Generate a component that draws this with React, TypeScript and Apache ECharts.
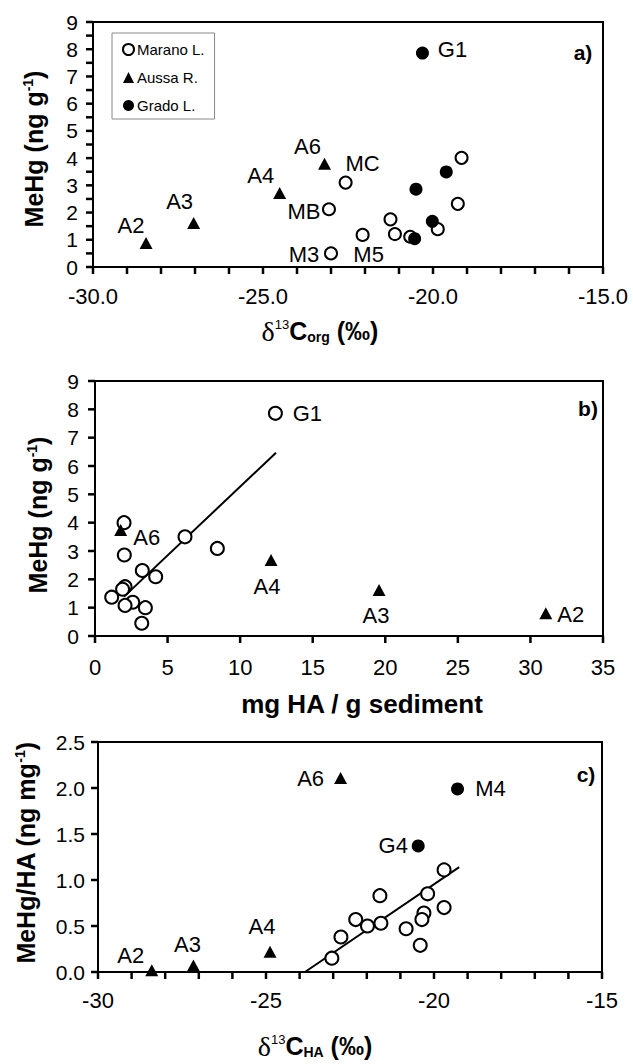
import React, { useEffect, useRef } from 'react';
import * as echarts from 'echarts';

const FONT = '"Liberation Sans", Arial, Helvetica, sans-serif';
const SERIF = '"Liberation Serif", "Times New Roman", serif';

// ---------- Panel a: MeHg vs d13C org ----------
const aMarano: [number, number, string][] = [
  [-22.57, 3.1, 'MC'], [-23.06, 2.12, 'MB'], [-23.0, 0.5, 'M3'], [-22.07, 1.18, 'M5'],
  [-21.25, 1.75, ''], [-21.12, 1.21, ''], [-20.67, 1.11, ''], [-19.86, 1.39, ''],
  [-19.27, 2.32, ''], [-19.16, 4.01, ''],
];
const aAussa: [number, number, string][] = [
  [-28.44, 0.88, 'A2'], [-27.04, 1.62, 'A3'], [-24.51, 2.72, 'A4'], [-23.19, 3.79, 'A6'],
];
const aGrado: [number, number, string][] = [
  [-20.31, 7.86, 'G1'], [-20.5, 2.86, ''], [-19.61, 3.49, ''], [-20.02, 1.68, ''], [-20.54, 1.04, ''],
];

// ---------- Panel b: MeHg vs mg HA / g sediment ----------
const bOpen: [number, number, string][] = [
  [12.43, 7.86, 'G1'], [6.2, 3.5, ''], [8.43, 3.09, ''], [2.0, 4.0, ''], [2.02, 2.86, ''],
  [3.26, 2.31, ''], [4.18, 2.09, ''], [2.07, 1.74, ''], [1.9, 1.65, ''], [1.15, 1.37, ''],
  [2.6, 1.19, ''], [2.07, 1.08, ''], [3.47, 1.0, ''], [3.22, 0.45, ''],
];
const bAussa: [number, number, string][] = [
  [1.77, 3.74, 'A6'], [12.13, 2.68, 'A4'], [19.57, 1.62, 'A3'], [31.06, 0.8, 'A2'],
];
const bFit: [number, number][] = [[2.0, 1.39], [12.47, 6.47]];

// ---------- Panel c: MeHg/HA vs d13C HA ----------
const cOpen: [number, number, string][] = [
  [-19.7, 1.11, ''], [-20.19, 0.85, ''], [-19.7, 0.7, ''], [-20.3, 0.64, ''], [-20.36, 0.57, ''],
  [-20.41, 0.29, ''], [-20.83, 0.47, ''], [-21.61, 0.83, ''], [-21.58, 0.53, ''], [-21.98, 0.5, ''],
  [-22.33, 0.57, ''], [-22.77, 0.38, ''], [-23.04, 0.15, ''],
];
const cFilled: [number, number, string][] = [[-19.3, 1.99, 'M4'], [-20.47, 1.37, 'G4']];
const cAussa: [number, number, string][] = [
  [-28.4, 0.02, 'A2'], [-27.16, 0.07, 'A3'], [-24.88, 0.22, 'A4'], [-22.78, 2.11, 'A6'],
];
const cFit: [number, number][] = [[-23.84, 0.0], [-19.25, 1.14]];

const legendNames = ['Marano L.', 'Aussa R.', 'Grado L.'];

// label offsets (px, label centre relative to point centre)
const offA: Record<string, [number, number]> = {
  MC: [17, -19], MB: [-25, 2], M3: [-27, 1], M5: [6, 20],
  A2: [-15, -18], A3: [-14, -21], A4: [-19, -17], A6: [-17, -17], G1: [30, -4],
};
const offB: Record<string, [number, number]> = {
  G1: [32, 0], A6: [26, 7], A4: [-4, 26], A3: [-3, 25], A2: [25, 1],
};
const offC: Record<string, [number, number]> = {
  A2: [-21, -15], A3: [-6, -21], A4: [-8, -25], A6: [-30, 1], M4: [33, 0], G4: [-25, 0],
};

const labelBase = {
  position: 'inside',
  color: '#000',
  opacity: 1,
  fontFamily: FONT,
  fontSize: 22,
  textBorderWidth: 0,
};

function toData(arr: [number, number, string][], off: Record<string, [number, number]>) {
  return arr.map(([x, y, n]) => {
    const item: any = { value: [x, y], name: n };
    if (n) {
      item.label = { ...labelBase, show: true, offset: off[n], formatter: n };
    }
    return item;
  });
}

const openStyle = { color: '#fff', borderColor: '#000', borderWidth: 2, opacity: 1 };
const fillStyle = { color: '#000', borderColor: '#000', borderWidth: 0, opacity: 1 };

function axisCfg(gi: number, position: string, min: number, max: number, interval: number, fmt: (v: number) => string, margin: number, fontSize: number) {
  return {
    type: 'value', gridIndex: gi, position, min, max, interval,
    axisLine: { show: true, onZero: false, lineStyle: { color: '#000', width: 2 } },
    axisTick: { show: false },
    splitLine: { show: false },
    axisLabel: { color: '#000', fontFamily: FONT, fontSize, margin, formatter: fmt, hideOverlap: false },
  };
}

const isMult = (v: number, m: number) => Math.abs(v / m - Math.round(v / m)) < 1e-6;

function steps(min: number, max: number, step: number) {
  const out: number[] = [];
  const n = Math.round((max - min) / step);
  for (let i = 0; i <= n; i++) out.push(+(min + i * step).toFixed(6));
  return out;
}

const TICK_LEN = 7;
// tick marks drawn through the axes' own coordinate conversion
function tickSeries(gi: number, dim: 'x' | 'y', values: number[], fixed: number) {
  return {
    name: `ticks-${gi}-${dim}`,
    type: 'custom',
    xAxisIndex: gi, yAxisIndex: gi,
    clip: false, silent: true, z: 5,
    data: values.map((v) => (dim === 'x' ? [v, fixed] : [fixed, v])),
    renderItem: (_params: any, api: any) => {
      const p = api.coord([api.value(0), api.value(1)]);
      const shape = dim === 'x'
        ? { x1: p[0], y1: p[1], x2: p[0], y2: p[1] + TICK_LEN }
        : { x1: p[0] - TICK_LEN, y1: p[1], x2: p[0], y2: p[1] };
      return { type: 'line', shape, style: { stroke: '#000', lineWidth: 2.5 } };
    },
  };
}

const rich = {
  b: { fontFamily: FONT, fontWeight: 'bold', fontSize: 25, lineHeight: 26, color: '#000' },
  d: { fontFamily: SERIF, fontSize: 28, lineHeight: 26, color: '#000' },
  sup: { fontFamily: FONT, fontSize: 13, lineHeight: 14, verticalAlign: 'top', color: '#000' },
  bsup: { fontFamily: FONT, fontWeight: 'bold', fontSize: 14, lineHeight: 14, verticalAlign: 'top', color: '#000' },
  sub: { fontFamily: FONT, fontWeight: 'bold', fontSize: 14, lineHeight: 12, verticalAlign: 'bottom', color: '#000' },
  bb: { fontFamily: FONT, fontWeight: 'bold', fontSize: 26, lineHeight: 28, color: '#000' },
};

function titleText(x: number, y: number, text: string, rot = 0) {
  return {
    type: 'text', x, y, rotation: rot,
    style: { text, rich, textAlign: 'center', textVerticalAlign: 'middle', fill: '#000', font: `bold 25px ${FONT}` },
  };
}
function letterText(x: number, y: number, text: string) {
  return {
    type: 'text', x, y,
    style: { text, textAlign: 'center', textVerticalAlign: 'middle', fill: '#000', font: `bold 21px ${FONT}` },
  };
}

function scatter(name: string, gi: number, symbol: string, size: any, style: any, data: any[]) {
  return {
    name, type: 'scatter', xAxisIndex: gi, yAxisIndex: gi, symbol, symbolSize: size,
    itemStyle: style, label: { ...labelBase, show: false }, data, z: 3,
    emphasis: { disabled: true },
  };
}

function fitLine(name: string, gi: number, data: [number, number][]) {
  return {
    name, type: 'line', xAxisIndex: gi, yAxisIndex: gi, showSymbol: false, symbol: 'none',
    lineStyle: { color: '#000', width: 2 }, data, z: 1, emphasis: { disabled: true },
  };
}

export default function App() {
  const ref = useRef<HTMLDivElement>(null);
  useEffect(() => {
    document.body.style.margin = '0';
    const chart = echarts.init(ref.current!, undefined, { renderer: 'svg' });
    const option: any = {
      animation: false,
      backgroundColor: '#fff',
      grid: [
        { left: 93, top: 22, width: 510, height: 245, show: true, borderColor: '#000', borderWidth: 2, backgroundColor: 'transparent' },
        { left: 95, top: 381, width: 508, height: 255, show: true, borderColor: '#000', borderWidth: 2, backgroundColor: 'transparent' },
        { left: 98, top: 742, width: 504, height: 230, show: true, borderColor: '#000', borderWidth: 2, backgroundColor: 'transparent' },
      ],
      xAxis: [
        axisCfg(0, 'bottom', -30, -15, 1, (v: number) => (isMult(v, 5) ? v.toFixed(1) : ''), 18, 22),
        axisCfg(1, 'bottom', 0, 35, 5, (v: number) => String(v), 20, 22),
        axisCfg(2, 'bottom', -30, -15, 1, (v: number) => (isMult(v, 5) ? String(v) : ''), 17, 22),
      ],
      yAxis: [
        axisCfg(0, 'left', 0, 9, 0.5, (v: number) => (isMult(v, 1) ? String(v) : ''), 15, 21),
        axisCfg(1, 'left', 0, 9, 1, (v: number) => String(v), 16, 21),
        axisCfg(2, 'left', 0, 2.5, 0.5, (v: number) => v.toFixed(1), 13, 21),
      ],
      legend: {
        data: legendNames,
        orient: 'vertical',
        left: 112, top: 33,
        padding: [9, 10, 6, 10],
        itemGap: 13,
        itemWidth: 11, itemHeight: 11,
        borderColor: '#888', borderWidth: 1,
        selectedMode: false,
        textStyle: { color: '#000', fontFamily: FONT, fontSize: 15, padding: [0, 0, 0, -2] },
      },
      series: [
        scatter('Marano L.', 0, 'circle', 12, openStyle, toData(aMarano, offA)),
        scatter('Aussa R.', 0, 'triangle', [13, 12], fillStyle, toData(aAussa, offA)),
        scatter('Grado L.', 0, 'circle', 13, fillStyle, toData(aGrado, offA)),

        fitLine('b fit', 1, bFit),
        scatter('b open', 1, 'circle', 13, openStyle, toData(bOpen, offB)),
        scatter('b aussa', 1, 'triangle', [13, 12], fillStyle, toData(bAussa, offB)),

        fitLine('c fit', 2, cFit),
        scatter('c open', 2, 'circle', 13, openStyle, toData(cOpen, offC)),
        scatter('c filled', 2, 'circle', 13, fillStyle, toData(cFilled, offC)),
        scatter('c aussa', 2, 'triangle', [13, 12], fillStyle, toData(cAussa, offC)),

        tickSeries(0, 'x', steps(-30, -15, 1), 0),
        tickSeries(0, 'y', steps(0, 9, 0.5), -30),
        tickSeries(1, 'x', steps(0, 35, 5), 0),
        tickSeries(1, 'y', steps(0, 9, 1), 0),
        tickSeries(2, 'x', steps(-30, -15, 1), 0),
        tickSeries(2, 'y', steps(0, 2.5, 0.5), -30),
      ],
      graphic: [
        titleText(34, 149, '{b|MeHg (ng g}{bsup|-1}{b|)}', Math.PI / 2),
        titleText(38, 515, '{b|MeHg (ng g}{bsup|-1}{b|)}', Math.PI / 2),
        titleText(26, 853, '{b|MeHg/HA (ng mg}{bsup|-1}{b|)}', Math.PI / 2),
        titleText(320, 331, '{d|δ}{sup|13}{b|C}{sub|org}{b| (‰)}'),
        titleText(362, 704, '{bb|mg HA / g sediment}'),
        titleText(315, 1046, '{d|δ}{sup|13}{b|C}{sub|HA}{b| (‰)}'),
        letterText(583, 52, 'a)'),
        letterText(588, 408, 'b)'),
        letterText(586, 774, 'c)'),
      ],
    };
    chart.setOption(option);
    return () => chart.dispose();
  }, []);
  return <div ref={ref} style={{ width: 633, height: 1064 }} />;
}
